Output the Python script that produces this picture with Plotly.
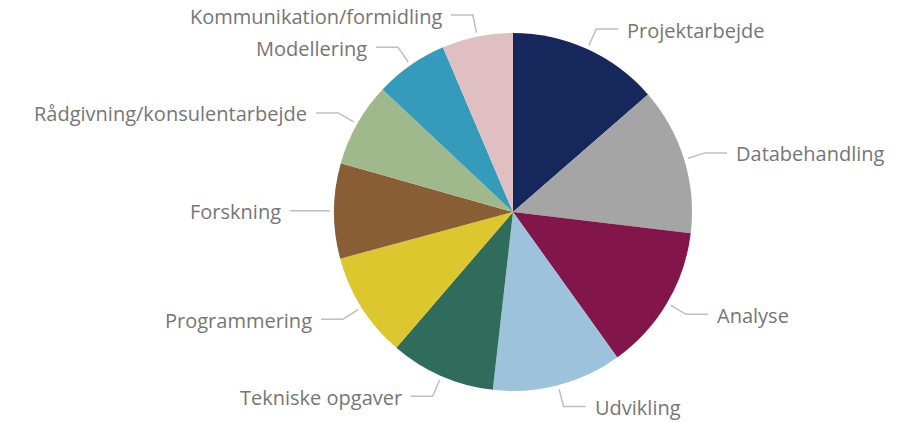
import math
import plotly.graph_objects as go

labels = ["Projektarbejde", "Databehandling", "Analyse", "Udvikling", "Tekniske opgaver",
          "Programmering", "Forskning", "Rådgivning/konsulentarbejde", "Modellering",
          "Kommunikation/formidling"]
values = [13.6, 13.3, 13.2, 11.7, 9.5, 9.5, 8.6, 7.6, 6.6, 6.4]
colors = ["#15275B", "#A5A5A5", "#82164A", "#9DC3DC", "#306C5C",
          "#DCC72E", "#8A5E35", "#9FB98C", "#359BBB", "#DFBFC2"]

W, H = 902, 423
CX, CY, R = 513, 212, 179

fig = go.Figure(go.Pie(
    labels=labels, values=values, sort=False, direction="clockwise", rotation=0,
    marker=dict(colors=colors, line=dict(width=0)),
    textinfo="none", hoverinfo="label+percent", showlegend=False,
    domain=dict(x=[(CX - R) / W, (CX + R) / W], y=[(H - CY - R) / H, (H - CY + R) / H]),
))

def px2paper(x, y):
    return x / W, (H - y) / H

total = sum(values)
cum = 0.0
shapes, annotations = [], []
for lab, v in zip(labels, values):
    mid = (cum + v / 2) / total * 2 * math.pi
    cum += v
    s, c = math.sin(mid), math.cos(mid)
    x0, y0 = CX + (R + 4) * s, CY - (R + 4) * c
    x1, y1 = CX + (R + 22) * s, CY - (R + 22) * c
    sign = 1 if s >= 0 else -1
    x2 = x1 + sign * 22
    p0, p1, p2 = px2paper(x0, y0), px2paper(x1, y1), px2paper(x2, y1)
    shapes.append(dict(type="path", xref="paper", yref="paper",
                       path=f"M {p0[0]} {p0[1]} L {p1[0]} {p1[1]} L {p2[0]} {p2[1]}",
                       line=dict(color="#BFBFBF", width=1.5)))
    tx, ty = px2paper(x2 + sign * 7, y1 + 1)
    annotations.append(dict(x=tx, y=ty, xref="paper", yref="paper", text=lab,
                            showarrow=False, xanchor="left" if sign > 0 else "right",
                            yanchor="middle",
                            font=dict(family="Open Sans", size=20, color="#767676")))

fig.update_layout(width=W, height=H, margin=dict(l=0, r=0, t=0, b=0),
                  paper_bgcolor="white", plot_bgcolor="white",
                  shapes=shapes, annotations=annotations)
fig.write_html("out.html", config={"displayModeBar": False},
               post_script="document.body.style.margin='0';document.body.style.overflow='hidden';")
